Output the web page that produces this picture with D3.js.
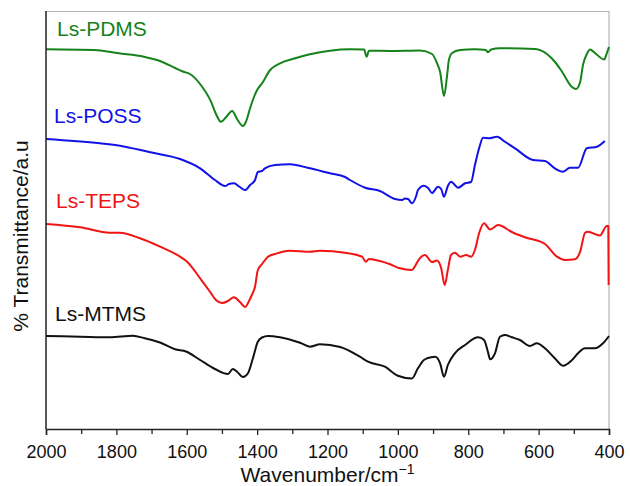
<!DOCTYPE html>
<html>
<head>
<meta charset="utf-8">
<script src="https://cdn.jsdelivr.net/npm/d3@7"></script>
<style>
  body { margin: 0; background: #fff; }
  text { font-family: "Liberation Sans", Arial, Helvetica, sans-serif; }
</style>
</head>
<body>
<svg id="chart" width="630" height="486"></svg>
<script>
// FTIR spectra, wavenumber (cm^-1) vs. offset transmittance (a.u.)
const majorTicks = [2000, 1800, 1600, 1400, 1200, 1000, 800, 600, 400];
const minorTicks = [1900, 1700, 1500, 1300, 1100, 900, 700, 500];

const seriesNames = ["Ls-PDMS", "Ls-POSS", "Ls-TEPS", "Ls-MTMS"];
const seriesColors = ["#15831a", "#1212e6", "#f01414", "#111111"];

const pdms = [
  [2000,379.7],[1864,379],[1793,375.7],[1722,372.3],[1676,368],[1633,361],[1611,357.5],
  [1591,355],[1560,344],[1531,327.3],[1517,315],[1503,307.3],[1488,312],[1471,318],
  [1457,310],[1440,303],[1432,307],[1420,320.7],[1409,332],[1400,339],[1386,345.7],
  [1363,359],[1335,365.7],[1292,370.7],[1250,374.7],[1193,378.3],[1136,379.7],
  [1096,379.5],[1089,372.3],[1082,378.3],[1022,378],[937,378.5],[903,375],[889,366],
  [880,357],[869,333],[860,354],[855,369],[846,376],[823,379],[781,379.7],[750,379],
  [744,376.7],[735,379.5],[710,380.7],[610,380],[573,374],[551,366],[533,357],
  [505,342],[494,340],[482,347],[474,364],[463,375],[454,379.5],[440,376],[414,369.5],
  [406,376],[400,382]
];

const poss = [
  [2000,290],[1847,285.7],[1790,283.3],[1704,276.7],[1619,270],[1562,260.7],[1520,249],
  [1491,243],[1480,245],[1466,245.7],[1449,242],[1434,239],[1420,244],[1406,249],
  [1398,257],[1386,258],[1378,260.7],[1349,264],[1307,264.7],[1250,260.7],[1193,255.7],
  [1150,252],[1136,249],[1093,241.3],[1051,238],[1008,230],[988,229],[980,230.5],
  [971,230],[960,225.7],[948,233],[943,239],[926,243.3],[914,241],[903,236],[886,242.3],
  [877,240],[869,232.3],[858,243],[849,247.3],[838,244],[829,241.3],[809,245.7],
  [792,247],[781,264],[769,281],[758,291.3],[741,290.7],[718,292.3],[696,287.3],
  [667,280.7],[616,269],[582,268],[554,260.7],[531,257.3],[511,261.3],[488,261.3],
  [463,280.7],[434,282.3],[412,288]
];

const teps = [
  [2000,205],[1903,201.7],[1818,196.3],[1790,196.3],[1733,190.7],[1676,182.3],[1619,172.3],
  [1599,167.3],[1562,150.7],[1534,137.3],[1517,129],[1500,126],[1483,128],[1466,131.7],
  [1449,127],[1434,122],[1423,128],[1415,134],[1406,142.3],[1398,159],[1386,165],
  [1369,172.3],[1349,175],[1307,178.3],[1250,177.3],[1221,178.3],[1150,176.3],
  [1102,172.3],[1091,167.3],[1082,170],[1074,169.7],[1022,164.7],[994,160.7],[960,159],
  [951,163],[943,168],[923,174],[903,167],[889,168.5],[877,161],[867,144],[858,159],
  [849,174],[838,176.3],[823,172.3],[806,174],[792,172.3],[781,179],[769,196],
  [755,205.7],[738,199.5],[715,204],[676,197],[639,191.7],[582,185],[548,172.3],
  [525,169],[497,169.7],[482,177.3],[468,196.3],[460,197.3],[426,193.5],[406,203],
  [402,203],[401,144]
];

const mtms = [
  [2000,93],[1903,92.3],[1818,91.7],[1753,93.3],[1719,90.7],[1676,86.5],[1633,79.7],
  [1602,77.5],[1562,69],[1520,60],[1483,55],[1469,60],[1457,57.3],[1440,52],[1426,55.7],
  [1412,70.7],[1398,87.3],[1386,91.5],[1369,93],[1335,91.7],[1278,86.3],[1250,82.3],
  [1221,84.7],[1164,82],[1108,72.3],[1085,67.3],[1037,62.3],[1000,53.3],[960,50.5],
  [943,60.7],[926,69],[917,70.7],[894,72.3],[880,65.7],[869,52.3],[858,64],[838,75.7],
  [809,84],[772,91.7],[755,89],[744,77],[738,69.7],[724,75.7],[710,92.3],[696,94],
  [676,91.7],[653,89],[625,83],[605,85.7],[582,80.7],[554,70.7],[531,63.3],[505,69],
  [488,75.7],[468,80.7],[440,80.7],[417,85.7],[400,93]
];

const seriesData = [pdms, poss, teps, mtms];

// Layout
const W = 630, H = 486;
const margin = { top: 11, right: 21, bottom: 57, left: 46 };
const plotW = W - margin.left - margin.right;
const plotH = H - margin.top - margin.bottom;

const svg = d3.select("#chart");
const g = svg.append("g").attr("transform", `translate(${margin.left},${margin.top})`);

const x = d3.scaleLinear().domain([2000, 400]).range([0, plotW]);
const y = d3.scaleLinear().domain([0, 418]).range([plotH, 0]);

// Light frame on top and right
g.append("line").attr("x1", 0).attr("x2", plotW).attr("y1", 0.5).attr("y2", 0.5)
  .attr("stroke", "#b4b4b4").attr("stroke-width", 1.2);
g.append("line").attr("x1", plotW).attr("x2", plotW).attr("y1", 0).attr("y2", plotH)
  .attr("stroke", "#b4b4b4").attr("stroke-width", 1.2);

// Spectra
const line = d3.line()
  .x(d => x(d[0]))
  .y(d => y(d[1]))
  .curve(d3.curveMonotoneX);

g.selectAll("path.spectrum")
  .data(seriesData)
  .join("path")
  .attr("class", "spectrum")
  .attr("d", line)
  .attr("fill", "none")
  .attr("stroke", (d, i) => seriesColors[i])
  .attr("stroke-width", 2)
  .attr("stroke-linejoin", "round");

// Series labels
const labelPos = [[57, 36], [54, 123], [56, 208], [55, 321]];
svg.selectAll("text.series")
  .data(seriesNames)
  .join("text")
  .attr("class", "series")
  .attr("x", (d, i) => labelPos[i][0])
  .attr("y", (d, i) => labelPos[i][1])
  .attr("font-size", 21)
  .attr("fill", (d, i) => seriesColors[i])
  .text(d => d);

// Left axis line
g.append("line").attr("x1", 0).attr("x2", 0).attr("y1", 0).attr("y2", plotH)
  .attr("stroke", "#222").attr("stroke-width", 1.5);

// Bottom axis: minor then major ticks
const minorAxis = d3.axisBottom(x).tickValues(minorTicks).tickSize(5).tickFormat("");
g.append("g").attr("transform", `translate(0,${plotH})`).call(minorAxis)
  .call(s => s.select(".domain").remove())
  .selectAll("line").attr("stroke", "#222").attr("stroke-width", 1.3);

const majorAxis = d3.axisBottom(x).tickValues(majorTicks).tickSize(6).tickPadding(10)
  .tickFormat(d3.format("d"));
const ax = g.append("g").attr("transform", `translate(0,${plotH})`).call(majorAxis);
ax.select(".domain").attr("stroke", "#222").attr("stroke-width", 1.5);
ax.selectAll(".tick line").attr("stroke", "#222").attr("stroke-width", 1.3);
ax.selectAll(".tick text")
  .attr("font-size", 18)
  .attr("fill", "#111")
  .attr("font-family", "'Liberation Sans', Arial, sans-serif");

// Axis titles
const xt = svg.append("text")
  .attr("x", margin.left + plotW / 2)
  .attr("y", 482)
  .attr("text-anchor", "middle")
  .attr("font-size", 21)
  .attr("fill", "#111");
xt.append("tspan").text("Wavenumber/cm");
xt.append("tspan").attr("dy", -8).attr("font-size", 14).text("\u22121");

svg.append("text")
  .attr("transform", "translate(28,236) rotate(-90)")
  .attr("text-anchor", "middle")
  .attr("font-size", 21)
  .attr("fill", "#111")
  .text("% Transmittance/a.u");
</script>
</body>
</html>
